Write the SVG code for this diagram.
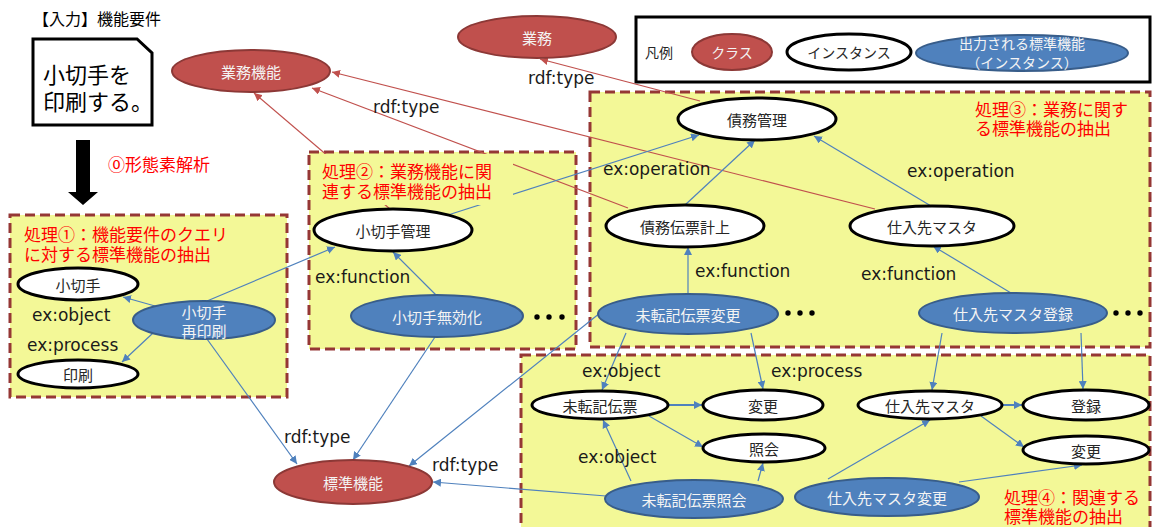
<svg xmlns="http://www.w3.org/2000/svg" width="1153" height="527" viewBox="0 0 1153 527">
<style>
.box{fill:#f3f897;stroke:#953735;stroke-width:3;stroke-dasharray:10 5}
.cls{fill:#c0504d;stroke:#8c3836;stroke-width:2}
.ins{fill:#fff;stroke:#000;stroke-width:3}
.out{fill:#4f81bd;stroke:#385d8a;stroke-width:2}
.jt{font-family:"Noto Sans CJK JP","Noto Sans",sans-serif;font-size:15px;dominant-baseline:central;text-anchor:middle}
.dk{fill:#262626}
.wt{fill:#f4f4f4}
.lbl{font-family:"DejaVu Sans",sans-serif;font-size:17px;fill:#1a1a1a;dominant-baseline:central}
.ttl{font-family:"Noto Sans CJK JP",sans-serif;font-size:17px;fill:#ff0000;dominant-baseline:central}
.bl{stroke:#4f81bd;stroke-width:1.2;fill:none;marker-end:url(#ab)}
.rd{stroke:#c0504d;stroke-width:1.2;fill:none;marker-end:url(#ar)}
.dot{fill:#000}
</style>
<defs>
<marker id="ab" viewBox="0 0 8 8" refX="8" refY="4" markerWidth="8" markerHeight="8" markerUnits="userSpaceOnUse" orient="auto"><path d="M0,0 L8,4 L0,8 z" fill="#4f81bd"/></marker>
<marker id="ar" viewBox="0 0 8 8" refX="8" refY="4" markerWidth="8" markerHeight="8" markerUnits="userSpaceOnUse" orient="auto"><path d="M0,0 L8,4 L0,8 z" fill="#c0504d"/></marker>
</defs>
<rect width="1153" height="527" fill="#fff"/>

<g id="input">
<text x="33" y="18" font-family="Noto Sans CJK JP,sans-serif" font-size="16" fill="#000" dominant-baseline="central">【入力】機能要件</text>
<path d="M33,39 H137 L152,53 V125 H33 Z" fill="#fff" stroke="#000" stroke-width="3"/>
<text font-family="Noto Sans CJK JP,sans-serif" font-size="22" fill="#000" dominant-baseline="central"><tspan x="43" y="73">小切手を</tspan><tspan x="43" y="100">印刷する。</tspan></text>
<polygon points="76,140 90,140 90,192 98,192 83,205 68,192 76,192" fill="#000"/>
<text x="108" y="163" font-family="Noto Sans CJK JP,sans-serif" font-size="17" fill="#ff0000" dominant-baseline="central">⓪形態素解析</text>
</g>

<g id="legend">
<rect x="636" y="17" width="514" height="65" fill="#fff" stroke="#000" stroke-width="3"/>
<text x="645" y="52" class="jt dk" style="text-anchor:start;font-size:14px">凡例</text>
<ellipse cx="732" cy="52" rx="40" ry="18" class="cls"/>
<text x="732" y="52" class="jt wt" style="font-size:14px">クラス</text>
<ellipse cx="849" cy="52" rx="62" ry="18" class="ins"/>
<text x="849" y="52" class="jt dk" style="font-size:14px">インスタンス</text>
<ellipse cx="1022" cy="53" rx="106" ry="18" class="out"/>
<text class="jt wt" style="font-size:14px"><tspan x="1022" y="43">出力される標準機能</tspan><tspan x="1022" y="62">（インスタンス）</tspan></text>
</g>

<g id="boxes">
<rect id="box1" x="10" y="215" width="277" height="182" class="box"/>
<rect id="box2" x="309" y="152" width="267" height="197" class="box"/>
<rect id="box3" x="590" y="92" width="560" height="255" class="box"/>
<rect id="box4" x="521" y="355" width="629" height="190" class="box"/>
</g>

<g id="connectors">
<line x1="390" y1="209" x2="254" y2="93" class="rd"/>
<line x1="628" y1="208" x2="312" y2="88" class="rd"/>
<line x1="875" y1="209" x2="332" y2="72" class="rd"/>
<line x1="700" y1="101" x2="540" y2="59" class="rd"/>
<line x1="155" y1="306" x2="123" y2="297" class="bl"/>
<line x1="153" y1="333" x2="122" y2="362" class="bl"/>
<line x1="207" y1="301" x2="335" y2="247" class="bl"/>
<line x1="207" y1="339" x2="297" y2="464" class="bl"/>
<line x1="436" y1="295" x2="393" y2="252" class="bl"/>
<line x1="435" y1="337" x2="353" y2="460" class="bl"/>
<line x1="448" y1="215" x2="699" y2="135" class="bl"/>
<line x1="685" y1="205" x2="755" y2="140" class="bl"/>
<line x1="931" y1="206" x2="814" y2="136" class="bl"/>
<line x1="688" y1="294" x2="688" y2="247" class="bl"/>
<line x1="1011" y1="293" x2="933" y2="246" class="bl"/>
<line x1="600" y1="313" x2="409" y2="466" class="bl"/>
<line x1="626" y1="333" x2="602" y2="390" class="bl"/>
<line x1="751" y1="333" x2="763" y2="389" class="bl"/>
<line x1="942" y1="333" x2="932" y2="390" class="bl"/>
<line x1="1081" y1="333" x2="1083" y2="389" class="bl"/>
<line x1="668" y1="405" x2="702" y2="405" class="bl" style="stroke-width:2"/>
<line x1="649" y1="416" x2="703" y2="447" class="bl"/>
<line x1="631" y1="481" x2="603" y2="420" class="bl"/>
<line x1="758" y1="481" x2="763" y2="463" class="bl"/>
<line x1="606" y1="496" x2="433" y2="482" class="bl"/>
<line x1="828" y1="479" x2="930" y2="420" class="bl"/>
<line x1="959" y1="482" x2="1082" y2="465" class="bl"/>
<line x1="1002" y1="405" x2="1022" y2="405" class="bl" style="stroke-width:2"/>
<line x1="981" y1="416" x2="1024" y2="447" class="bl"/>
</g>

<g id="labels">
<text x="32" y="315" class="lbl">ex:object</text>
<text x="27" y="345" class="lbl">ex:process</text>
<text x="315" y="277" class="lbl">ex:function</text>
<text x="373" y="107" class="lbl">rdf:type</text>
<text x="528" y="78" class="lbl">rdf:type</text>
<text x="603" y="169" class="lbl">ex:operation</text>
<text x="907" y="171" class="lbl">ex:operation</text>
<text x="695" y="271" class="lbl">ex:function</text>
<text x="861" y="274" class="lbl">ex:function</text>
<text x="582" y="371" class="lbl">ex:object</text>
<text x="771" y="371" class="lbl">ex:process</text>
<text x="578" y="457" class="lbl">ex:object</text>
<text x="284" y="437" class="lbl">rdf:type</text>
<text x="432" y="465" class="lbl">rdf:type</text>
</g>

<g id="titles">
<text class="ttl"><tspan x="24" y="233">処理①：機能要件のクエリ</tspan><tspan x="24" y="253">に対する標準機能の抽出</tspan></text>
<rect x="312" y="154" width="201" height="51" fill="#f3f897"/>
<text class="ttl"><tspan x="322" y="170">処理②：業務機能に関</tspan><tspan x="322" y="190">連する標準機能の抽出</tspan></text>
<text class="ttl"><tspan x="975" y="108">処理③：業務に関す</tspan><tspan x="975" y="127">る標準機能の抽出</tspan></text>
<text class="ttl"><tspan x="1004" y="496">処理④：関連する</tspan><tspan x="1004" y="515">標準機能の抽出</tspan></text>
</g>

<g id="dots">
<circle cx="537" cy="317" r="2.7" class="dot"/><circle cx="549" cy="317" r="2.7" class="dot"/><circle cx="562" cy="317" r="2.7" class="dot"/>
<circle cx="788" cy="313" r="2.7" class="dot"/><circle cx="800" cy="313" r="2.7" class="dot"/><circle cx="812" cy="313" r="2.7" class="dot"/>
<circle cx="1116" cy="313" r="2.7" class="dot"/><circle cx="1128" cy="313" r="2.7" class="dot"/><circle cx="1140" cy="313" r="2.7" class="dot"/>
</g>

<g id="n-gyomu"><ellipse cx="537" cy="37" rx="79" ry="21" class="cls"/><text x="537" y="37" class="jt wt">業務</text></g>
<g id="n-gyomukino"><ellipse cx="251" cy="71" rx="79" ry="21" class="cls"/><text x="251" y="71" class="jt wt">業務機能</text></g>
<g id="n-hyojunkino"><ellipse cx="353" cy="482" rx="79" ry="22" class="cls"/><text x="353" y="482" class="jt wt">標準機能</text></g>

<g id="n-kogitte"><ellipse cx="78" cy="284" rx="60" ry="16" class="ins"/><text x="78" y="284" class="jt dk">小切手</text></g>
<g id="n-insatsu"><ellipse cx="78" cy="374" rx="60" ry="14" class="ins"/><text x="78" y="374" class="jt dk">印刷</text></g>
<g id="n-saiinsatsu"><ellipse cx="204" cy="320" rx="71" ry="19" class="out"/><text class="jt wt"><tspan x="204" y="311">小切手</tspan><tspan x="204" y="330">再印刷</tspan></text></g>

<g id="n-kogittekanri"><ellipse cx="393" cy="230" rx="79" ry="21" class="ins"/><text x="393" y="230" class="jt dk">小切手管理</text></g>
<g id="n-mukouka"><ellipse cx="437" cy="316" rx="86" ry="21" class="out"/><text x="437" y="316" class="jt wt">小切手無効化</text></g>

<g id="n-saimukanri"><ellipse cx="757" cy="119" rx="79" ry="21" class="ins"/><text x="757" y="119" class="jt dk">債務管理</text></g>
<g id="n-saimudenpyo"><ellipse cx="685" cy="226" rx="79" ry="21" class="ins"/><text x="685" y="226" class="jt dk">債務伝票計上</text></g>
<g id="n-shiire1"><ellipse cx="932" cy="226" rx="82" ry="20" class="ins"/><text x="932" y="226" class="jt dk">仕入先マスタ</text></g>
<g id="n-mitenkihenko"><ellipse cx="688" cy="314" rx="90" ry="20" class="out"/><text x="688" y="314" class="jt wt">未転記伝票変更</text></g>
<g id="n-shiiretoroku"><ellipse cx="1013" cy="313" rx="94" ry="20" class="out"/><text x="1013" y="313" class="jt wt">仕入先マスタ登録</text></g>

<g id="n-mitenkidenpyo"><ellipse cx="600" cy="405" rx="68" ry="14" class="ins"/><text x="600" y="405" class="jt dk">未転記伝票</text></g>
<g id="n-henko1"><ellipse cx="763" cy="405" rx="60" ry="15" class="ins"/><text x="763" y="405" class="jt dk">変更</text></g>
<g id="n-shokai"><ellipse cx="764" cy="448" rx="61" ry="14" class="ins"/><text x="764" y="448" class="jt dk">照会</text></g>
<g id="n-shiire2"><ellipse cx="930" cy="405" rx="72" ry="14" class="ins"/><text x="930" y="405" class="jt dk">仕入先マスタ</text></g>
<g id="n-toroku"><ellipse cx="1086" cy="405" rx="63" ry="15" class="ins"/><text x="1086" y="405" class="jt dk">登録</text></g>
<g id="n-henko2"><ellipse cx="1086" cy="450" rx="63" ry="14" class="ins"/><text x="1086" y="450" class="jt dk">変更</text></g>
<g id="n-mitenkishokai"><ellipse cx="694" cy="499" rx="89" ry="19" class="out"/><text x="694" y="499" class="jt wt">未転記伝票照会</text></g>
<g id="n-shiirehenko"><ellipse cx="887" cy="497" rx="92" ry="19" class="out"/><text x="887" y="497" class="jt wt">仕入先マスタ変更</text></g>
</svg>
